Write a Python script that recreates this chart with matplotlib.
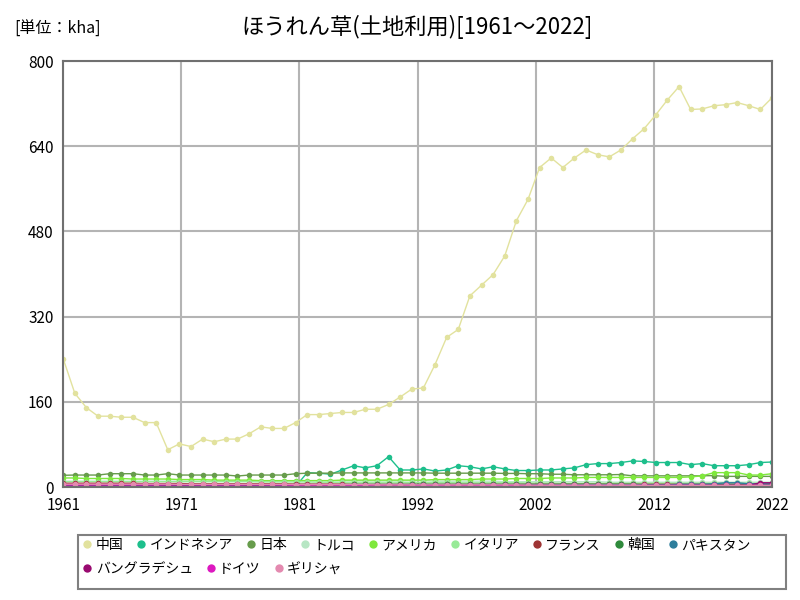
import matplotlib
matplotlib.use("Agg")
import matplotlib.pyplot as plt
import numpy as np
from matplotlib.patches import Rectangle

plt.rcParams['font.family'] = ['Noto Sans CJK JP', 'DejaVu Sans']
plt.rcParams['axes.unicode_minus'] = False

nan = np.nan
years = np.arange(1961, 2023)

china = [241, 176, 149, 133, 133, 131, 131, 121, 121, 70,
         81, 76, 90, 85, 90, 90, 100, 113, 110, 110,
         121, 136, 136, 138, 140, 140, 146, 146, 155, 169,
         184, 186, 230, 281, 296, 359, 379, 399, 434, 500,
         540, 600, 618, 600, 618, 633, 624, 620, 633, 654,
         673, 699, 727, 752, 709, 710, 716, 718, 722, 716,
         709, 731]
indonesia = [nan] * 20 + [1,
             27, 26, 24, 32, 40, 36, 40, 57, 32,
             32, 34, 30, 32, 40, 38, 34, 38, 34, 31,
             31, 32, 32, 34, 36, 42, 44, 44, 46, 49,
             48, 46, 46, 46, 42, 44, 40, 40, 40, 42,
             46, 47]
japan = [22, 22.5, 22.5, 22.5, 25, 25, 25, 22.5, 22.5, 25,
         22.5, 22.5, 22.5, 22.5, 22.5, 20.7, 22.5, 22.5, 22.5, 22.5,
         25, 26, 26, 26, 26.5, 26.5, 26.5, 26.5, 26.5, 26.5,
         26.5, 26.5, 26, 26, 26, 26, 26, 26, 25.5, 25.5,
         25, 25, 24, 24, 23, 23, 23, 23, 23.5, 21,
         21, 21, 21, 21, 21, 21, 21.5, 20, 20, 20,
         20, 20]
turkey = [11, 11, 11, 11, 11, 11, 11, 11, 11, 11,
          11, 11, 11, 11, 11, 11, 11, 11, 11, 11,
          12, 12, 12, 12, 12, 12, 12, 12, 12, 12,
          12, 12, 11, 11, 11, 11, 11, 11, 10, 10,
          10, 10, 10, 10, 10, 10, 10, 9, 9, 9,
          9, 9, 9, 9, 9, 9, 9, 9, 9, 9,
          9, 9]
usa = [17, 17, 16, 16, 16, 16, 15, 15, 15, 15,
       14, 14, 14, 13, 13, 13, 13, 12, 12, 12,
       12, 12, 12, 12, 13, 13, 13, 13, 13, 13,
       13, 13, 14, 14, 14, 14, 15, 15, 15, 16,
       16, 16, 17, 17, 17, 18, 18, 18, 18, 18,
       18, 18, 18, 18, 19, 21, 27, 27, 27, 22.5,
       22.5, 25]
italy = [10, 10, 10, 10, 10, 10, 10, 10, 10, 10,
         10, 10, 10, 10, 10, 10, 10, 9.5, 9.5, 9.5,
         9.5, 9.5, 9, 9, 9, 9, 9, 9, 9, 9,
         8.5, 8.5, 8.5, 8.5, 8, 8, 8, 8, 8, 8,
         7.5, 7.5, 7.5, 7, 7, 7, 7, 7, 7, 7,
         7, 7, 7, 7, 7, 7, 7, 7, 7, 7,
         7, 7]
france = [7, 7, 7, 7, 7, 7, 7, 6.5, 6.5, 6.5,
          6.5, 6, 6, 6, 6, 6, 6, 6, 6, 6,
          5.5, 5.5, 5.5, 5.5, 5.5, 5, 5, 5, 5, 5,
          5, 5, 5, 5, 5, 5, 5, 5, 5, 5,
          5, 5, 5, 5, 5, 5, 5, 5, 5, 5,
          5, 5, 5, 5, 5, 5, 5, 5, 5, 5,
          5, 5]
korea = [3, 3, 3, 3, 3, 3, 3, 3, 3, 3,
         3.5, 3.5, 3.5, 3.5, 3.5, 4, 4, 4, 4, 4,
         4.5, 4.5, 4.5, 4.5, 4.5, 5, 5, 5, 5, 5,
         5, 5, 5, 5, 5, 5, 5, 5, 5, 5,
         5, 5, 5, 5, 5, 5, 5, 5, 5, 5,
         4.5, 4.5, 4.5, 4.5, 4.5, 4.5, 4.5, 4.5, 4, 4,
         4, 4]
pakistan = [2, 2, 2, 2, 2, 2, 2, 2, 2, 2,
            2, 2, 2, 2, 2, 2, 2, 2, 2, 2,
            2.5, 2.5, 2.5, 2.5, 2.5, 2.5, 2.5, 2.5, 2.5, 2.5,
            3, 3, 3, 3, 3, 3, 3, 3, 3, 3,
            3.5, 3.5, 3.5, 3.5, 3.5, 4, 4, 4, 4, 4,
            4, 4, 4, 5, 5, 5, 6, 8, 8, 6,
            6, 6]
bangladesh = [1.5, 1.5, 1.5, 1.5, 1.5, 1.5, 1.5, 1.5, 1.5, 1.5,
              1.5, 1.5, 1.5, 1.5, 1.5, 1.5, 1.5, 1.5, 1.5, 1.5,
              2, 2, 2, 2, 2, 2, 2, 2, 2, 2,
              2, 2, 2, 2, 2, 2, 2, 2, 2, 2,
              2, 2, 2.5, 2.5, 2.5, 2.5, 2.5, 2.5, 2.5, 2.5,
              3, 3, 3, 3, 3, 3, 3, 3, 3, 3,
              8, 8]
germany = [4, 4, 4, 4, 4, 4, 4, 4, 4, 4,
           4, 4, 4, 4, 4, 4, 4, 4, 4, 4,
           3.5, 3.5, 3.5, 3.5, 3.5, 3.5, 3.5, 3.5, 3.5, 3.5,
           3, 3, 3, 3, 3, 3, 3, 3, 3, 3,
           3, 3, 3, 3, 3, 3, 3, 3, 3, 3,
           3, 3, 3, 3, 3, 3, 3, 3, 3, 3,
           3, 3]
greece = [5.5, 5.5, 5.5, 5.5, 5.5, 5.5, 5.5, 5.5, 5.5, 5.5,
          5, 5, 5, 5, 5, 5, 5, 5, 5, 5,
          4.5, 4.5, 4.5, 4.5, 4.5, 4.5, 4.5, 4, 4, 4,
          4, 4, 4, 4, 4, 4, 4, 4, 4, 4,
          3.5, 3.5, 3.5, 3.5, 3.5, 3.5, 3.5, 3.5, 3.5, 3.5,
          3, 3, 3, 3, 3, 3, 3, 3, 3, 3,
          3, 3]

names = ['中国', 'インドネシア', '日本', 'トルコ', 'アメリカ', 'イタリア',
         'フランス', '韓国', 'パキスタン', 'バングラデシュ', 'ドイツ', 'ギリシャ']
series = [china, indonesia, japan, turkey, usa, italy,
          france, korea, pakistan, bangladesh, germany, greece]
colors = ['#e2e29e', '#1dbf8c', '#679c4c', '#b7e6c4', '#7fe83c', '#98ea98',
          '#9e3434', '#2f8a3c', '#2e7e9c', '#990a70', '#dd18c0', '#e48ab0']

fig = plt.figure(figsize=(8, 6), dpi=100)
ax = fig.add_axes([0.079, 0.1883, 0.886, 0.7100])

handles = []
for name, vals, c in zip(names, series, colors):
    h, = ax.plot(years, vals, color=c, lw=1, marker='o', ms=4,
                 markeredgewidth=0, label=name)
    handles.append(h)

ax.set_xlim(1961, 2022)
ax.set_ylim(0, 800)
# ticks are spread evenly over the range, labels rounded to the year
xt = np.linspace(1961, 2022, 7)
ax.set_xticks(xt)
ax.set_xticklabels([str(int(round(v))) for v in xt])
ax.set_yticks([0, 160, 320, 480, 640, 800])
ax.tick_params(length=0, labelsize=11, pad=7)
ax.grid(True, color='#b4b4b4', lw=1.5)
ax.set_axisbelow(True)
for s in ax.spines.values():
    s.set_color('#707070')
    s.set_linewidth(1.5)

fig.text(0.522, 0.955, 'ほうれん草(土地利用)[1961～2022]', ha='center', va='center', fontsize=16)
fig.text(0.018, 0.952, '[単位：kha]', ha='left', va='center', fontsize=11.5)

# legend box with two flowing rows
fig.patches.append(Rectangle((0.0975, 0.018), 0.885, 0.090, transform=fig.transFigure,
                             fill=False, edgecolor='#808080', lw=1.5))
leg1 = fig.legend(handles[:9], names[:9], loc='upper left', bbox_to_anchor=(0.097, 0.112),
                  ncol=9, frameon=False, fontsize=10, handlelength=0.6, handletextpad=0.3,
                  columnspacing=1.0, borderaxespad=0)
leg2 = fig.legend(handles[9:], names[9:], loc='upper left', bbox_to_anchor=(0.097, 0.072),
                  ncol=3, frameon=False, fontsize=10, handlelength=0.6, handletextpad=0.3,
                  columnspacing=1.0, borderaxespad=0)
for leg in (leg1, leg2):
    for lh in leg.legend_handles:
        lh.set_linestyle('none')
        lh.set_markersize(6)

fig.savefig('out.png', dpi=100)
